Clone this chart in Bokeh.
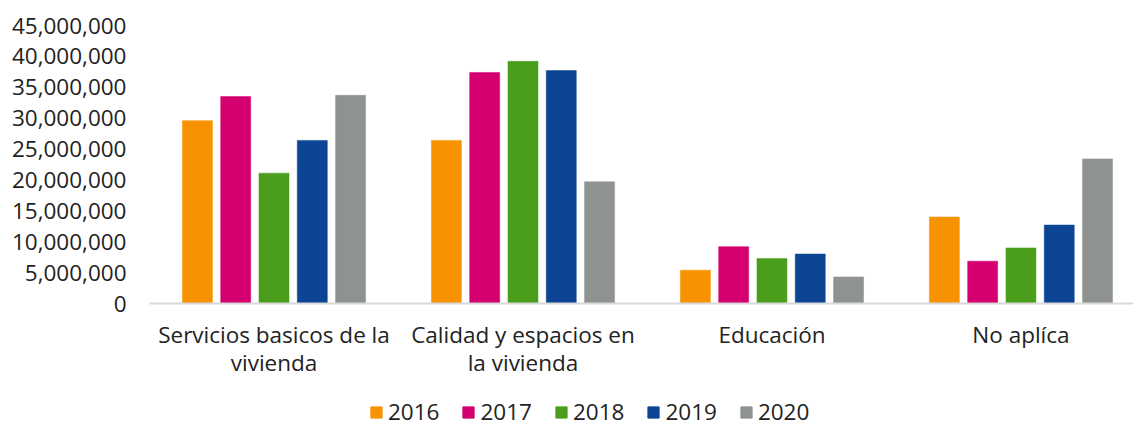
import numpy as np
from bokeh.plotting import figure
from bokeh.layouts import column
from bokeh.models import (ColumnDataSource, Range1d, FixedTicker, SingleIntervalTicker,
                          NumeralTickFormatter, Legend, LegendItem)
from bokeh.transform import dodge
from bokeh.embed import file_html
from bokeh.resources import INLINE

categories = ["Servicios basicos de la\nvivienda", "Calidad y espacios en\nla vivienda",
              "Educación", "No aplíca"]
years = ["2016", "2017", "2018", "2019", "2020"]
v2016 = [29600000, 26400000, 5400000, 14000000]
v2017 = [33500000, 37400000, 9200000, 6850000]
v2018 = [21100000, 39200000, 7300000, 9000000]
v2019 = [26400000, 37700000, 8000000, 12700000]
v2020 = [33700000, 19700000, 4300000, 23400000]
colors = ["#F79200", "#D4006F", "#4A9E1B", "#0B4594", "#8F938F"]

series = [v2016, v2017, v2018, v2019, v2020]
centers = list(np.arange(len(categories)) + 0.5)
data = {"x": centers}
for y, s in zip(years, series):
    data["y" + y] = s
source = ColumnDataSource(data)

FONT = "Open Sans"
TXT = "#222222"
FS = "22.5px"

MAIN_H = 397
p = figure(width=1133, height=MAIN_H, output_backend="svg", toolbar_location=None,
           x_range=Range1d(0, 3.952), y_range=Range1d(0, 45000000),
           min_border_left=149, min_border_right=0, min_border_top=25,
           min_border_bottom=MAIN_H - 303)
p.outline_line_color = None
p.xgrid.visible = False
p.ygrid.visible = False

pitch = 0.1538
bw = 0.1205
for j, (y, c) in enumerate(zip(years, colors)):
    p.vbar(x=dodge("x", (j - 2) * pitch), top="y" + y, width=bw, source=source,
           fill_color=c, line_color=c, line_width=0.5)

# axes
p.yaxis.ticker = SingleIntervalTicker(interval=5000000)
p.yaxis.formatter = NumeralTickFormatter(format="0,0")
p.yaxis.axis_line_color = None
p.yaxis.major_tick_line_color = None
p.yaxis.minor_tick_line_color = None
p.yaxis.major_tick_out = 0
p.yaxis.major_label_standoff = 19
p.yaxis.major_label_text_font = FONT
p.yaxis.major_label_text_font_size = FS
p.yaxis.major_label_text_color = TXT

p.xaxis.ticker = FixedTicker(ticks=centers)
p.xaxis.major_label_overrides = {c: lab for c, lab in zip(centers, categories)}
p.xaxis.axis_line_color = "#d9d9d9"
p.xaxis.axis_line_width = 2
p.xaxis.major_tick_line_color = None
p.xaxis.minor_tick_line_color = None
p.xaxis.major_tick_out = 0
p.xaxis.major_label_standoff = 15
p.xaxis.major_label_text_font = FONT
p.xaxis.major_label_text_font_size = FS
p.xaxis.major_label_text_color = TXT
p.xaxis.major_label_text_line_height = 0.93

# legend strip (frame aligned with the main plot's frame)
LEG_H = 427 - MAIN_H
pl = figure(width=1133, height=LEG_H, output_backend="svg", toolbar_location=None,
            x_axis_type=None, y_axis_type=None, x_range=Range1d(0, 1), y_range=Range1d(0, 1),
            min_border=0, min_border_left=149, min_border_right=0,
            min_border_top=0, min_border_bottom=0)
pl.outline_line_color = None
pl.xgrid.visible = False
pl.ygrid.visible = False
leg_renderers = []
for c in colors:
    # zero-height placeholder bars: only their style is used by the legend
    leg_renderers.append(pl.vbar(x=[0.5], bottom=[0], top=[0], width=0.01,
                                 fill_color=c, line_color=c))
legend = Legend(items=[LegendItem(label=y, renderers=[r]) for y, r in zip(years, leg_renderers)],
                orientation="horizontal", location=(220, 0),
                glyph_width=14, glyph_height=14, label_standoff=5, spacing=22,
                padding=0, margin=0, border_line_color=None, background_fill_alpha=0,
                label_text_font=FONT, label_text_font_size=FS, label_text_color=TXT)
pl.add_layout(legend, "center")

layout = column(p, pl, spacing=0)
open("out.html", "w").write(file_html(layout, INLINE))
